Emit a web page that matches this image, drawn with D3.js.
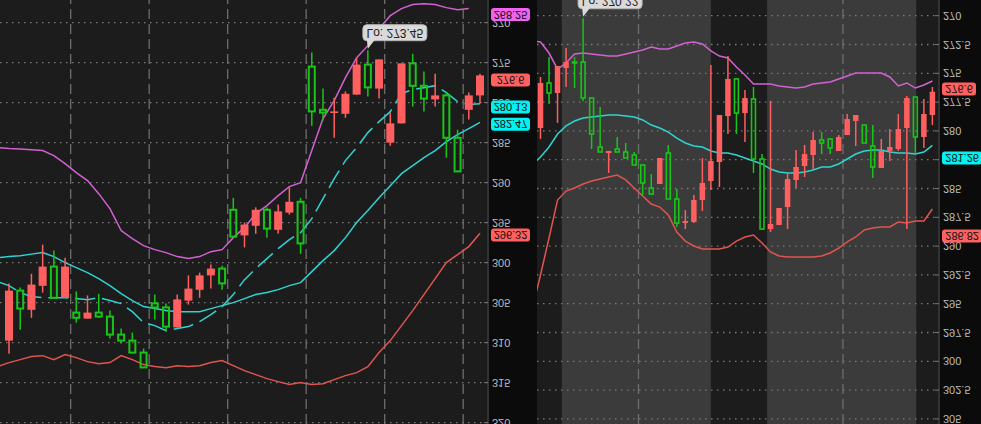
<!DOCTYPE html>
<html><head><meta charset="utf-8">
<script src="https://cdn.jsdelivr.net/npm/d3@7"></script>
<style>html,body{margin:0;padding:0;background:#0b0b0b;overflow:hidden}svg{display:block}</style>
</head><body>
<svg id="c" width="981" height="424"></svg>
<script>
// ---------------- DATA ----------------
// Left panel candles (OHLC)
const leftOpen  = [309.75,303.5,305.9,302.9,300.5,304.4,306.25,307,306.25,306.75,309,309.75,311.25,305.1,305.6,308.1,304.75,303.4,301.6,300.75,293.4,296.6,295.4,293.4,295.9,293.75,292.4,275.5,280.9,281.3,281.4,279,275.25,278.25,285,282.6,275.1,277.9,279.6,279.1,284.4,280.9,279.1];
const leftHigh  = [311.4,308.4,306.9,303.75,304.4,304.4,307.5,307,306.9,309.5,310.1,311.25,313.1,307.1,308.6,308.1,305.25,304.4,303.25,303.4,296.75,298.1,296.4,296.9,296.4,294,298.9,282.9,282.25,284.4,281.9,279,279.25,279.5,285.4,282.6,280.5,281.1,280.5,286.9,288.6,282.1,280.1];
const leftLow   = [302.6,303.1,301.4,297.75,298.5,299.4,303.6,304.1,303.9,306,308.25,308.75,310.75,304,305.1,304,301.6,301.25,300.25,300.4,291.9,295,293.1,293.1,292.75,290.6,291.9,273.75,278.25,279.4,278.6,274.4,273.45,274.6,281.25,275.1,273.9,276.1,276.4,278.75,283.4,278.75,276.4];
const leftClose = [303.5,305.75,302.75,300.5,304.4,300.5,306.9,306.25,306.75,309,309.75,311.25,313.1,305.6,308,304.6,303.25,301.6,300.75,302.6,296.75,295.25,293.4,295.75,293.6,292.4,297.6,281.1,281.25,281.1,278.9,275.25,278.1,274.6,282.6,275.1,277.9,279.5,279.1,284.4,288.6,279.1,276.6];
// Left panel studies (first value is the bar just before the visible range)
const leftUpper  = [285.63,285.75,285.81,285.88,286.00,286.63,287.63,288.75,289.75,291.38,293.25,296.00,297.00,297.88,298.38,298.75,299.25,299.50,299.25,298.63,298.38,296.88,295.63,293.88,292.88,291.63,290.50,290.00,286.00,282.00,279.75,276.88,274.38,272.88,270.75,269.13,268.25,267.75,267.63,267.75,268.13,268.38,268.25];
const leftMiddle = [299.38,299.25,299.13,298.94,298.75,299.25,300.00,300.63,301.25,302.00,302.88,303.88,304.75,305.50,305.75,306.00,306.13,306.13,306.13,305.75,305.38,305.00,304.50,304.00,303.75,303.38,302.88,302.50,301.13,299.75,298.50,296.88,295.00,293.50,291.88,290.38,288.88,287.88,286.88,286.00,284.88,284.00,283.25,282.47];
const leftFastMA = [302.38,302.88,303.75,304.25,304.38,304.38,304.38,304.50,304.63,304.38,304.75,305.13,306.13,307.50,307.88,308.50,308.25,308.00,307.38,306.50,305.50,304.00,302.13,300.75,299.50,298.25,297.13,296.25,294.50,292.00,289.50,287.25,285.63,283.75,282.38,281.13,278.88,278.38,278.13,277.88,278.75,279.88,280.25,280.13];
const leftLower  = [313.00,312.50,312.13,311.75,311.63,312.13,311.50,311.88,312.38,312.63,312.50,311.63,312.13,312.75,313.00,313.13,312.88,313.00,312.88,312.50,312.25,312.88,313.50,314.00,314.50,314.88,315.25,315.00,315.25,315.13,314.63,314.13,313.75,313.00,311.25,309.75,307.88,306.00,304.00,302.00,300.00,299.00,298.00,296.32];
// Right panel candles (OHLC)
const rightOpen  = [279.75,275.84,276.71,274.54,274.02,274.02,277.14,281.40,281.92,281.57,281.83,282.09,282.96,284.96,284.61,281.92,285.91,288.00,287.91,286.00,284.35,282.70,278.71,275.49,278.45,277.23,282.44,288.52,288.17,286.61,284.26,283.05,282.09,280.79,280.70,281.74,280.36,279.14,279.49,281.31,283.22,281.74,281.57,279.75,277.06,280.53,278.62];
const rightHigh  = [280.70,277.66,279.31,276.19,276.28,277.40,281.57,281.83,283.65,281.83,282.35,282.96,285.56,285.48,284.61,285.91,288.34,288.52,288.00,286.95,285.13,284.87,280.27,280.27,280.96,283.65,288.60,288.78,288.17,288.52,284.96,284.00,283.31,282.01,282.01,281.74,280.36,281.31,281.05,284.09,283.22,282.61,281.74,288.52,282.01,281.48,279.49];
const rightLow   = [275.32,273.59,274.37,272.80,273.59,270.22,277.14,277.93,281.74,280.53,281.05,281.83,282.96,283.74,282.35,281.22,285.04,286.87,285.56,282.35,274.28,278.62,273.50,275.49,276.45,276.19,282.01,277.40,286.69,283.65,281.66,281.22,280.10,280.10,280.70,280.36,278.53,278.62,279.49,279.49,280.70,279.84,278.53,276.97,277.06,277.23,276.19];
const rightClose = [275.84,276.71,274.37,274.02,274.11,277.14,280.27,281.83,281.74,281.83,282.35,282.96,284.52,285.48,282.35,285.91,288.00,287.83,286.00,284.52,282.61,278.62,275.49,278.45,277.14,282.44,288.52,288.08,286.69,284.18,283.13,282.01,280.79,281.05,281.48,280.53,278.97,278.62,281.05,283.13,281.74,281.40,279.84,277.14,280.53,278.53,276.60];
// Right panel studies (first value is the bar just before the visible range)
const rightUpper  = [272.20,272.28,273.24,274.63,274.11,273.32,273.24,273.32,273.41,273.50,273.50,273.32,273.15,272.98,272.72,272.89,272.89,272.63,272.37,272.28,272.46,273.06,273.50,273.67,274.45,275.15,275.93,275.93,275.93,276.10,276.19,276.28,276.19,275.93,275.84,275.76,275.49,275.23,274.97,274.97,274.97,274.97,275.32,276.10,275.84,276.28,276.02,275.67];
const rightMiddle = [282.96,282.27,281.40,280.27,279.57,279.14,278.88,278.79,278.71,278.62,278.62,278.71,278.79,279.05,279.49,279.75,280.10,280.62,281.05,281.31,281.40,281.74,281.92,281.92,282.09,282.35,282.61,282.87,283.31,283.57,283.65,283.65,283.57,283.39,283.13,283.13,282.87,282.44,282.01,281.74,281.66,281.66,281.83,281.92,281.92,282.01,281.83,281.26];
const rightLower  = [295.55,292.51,289.30,286.00,285.22,284.96,284.61,284.35,284.18,284.00,283.83,284.26,284.96,285.65,286.35,286.61,287.30,288.78,289.56,289.99,290.25,290.25,290.25,290.08,289.56,289.21,289.04,289.73,290.51,290.86,290.95,290.95,290.95,290.95,290.86,290.60,290.17,289.64,289.21,288.60,288.43,288.34,288.34,287.91,288.00,287.82,287.82,286.78];
// Axes
const leftTickLabels  = ["270","275","280","285","290","295","300","305","310","315","320"];
const rightTickLabels = ["270","272.5","275","277.5","280","282.5","285","287.5","290","292.5","295","297.5","300","302.5","305"];
const leftDayBreaks  = [5.5,12.5,19.5,26.5,33.5,40.5];
const rightDayBreaks = [11.5,35.5];
const rightSessions  = [[2.5,20.0],[26.6,44.1]];
// Price bubbles and axis badges
const leftBubble  = {bar:32, label:"Lo: 273.45", value:273.45};
const rightBubble = {bar:5,  label:"Lo: 270.22", value:270.22};
const leftBadgeLabels  = ["268.25","276.6","280.13","282.47","296.32"];
const leftBadgeValues  = [268.25,276.6,280.13,282.47,296.32];
const rightBadgeLabels = ["276.6","281.26","286.82"];
const rightBadgeValues = [276.6,281.26,286.82];

// ---------------- LAYOUT / STYLE ----------------
const W=981,H=424;
const C={bg:"#0b0b0b",panel:"#1c1c1c",shade:"#3b3b3b",grid:"#6a6a6a",axis:"#4d4d4d",tick:"#bdbdbd",
  up:"#19c419",down:"#ff5f5f",upper:"#d261d2",middle:"#2fd3d3",lower:"#e0554f"};
const leftBadgeColors=[ "#f063f0","#ff6161","#00f2f2","#00f2f2","#ff6161"];
const rightBadgeColors=["#ff6161","#00f2f2","#ff6161"];
const leftBadgeNudge=[6,4.6,3.4,2,1.8];
const rightBadgeNudge=[-2.7,12.6,26.5];
const FONT='"Liberation Sans", Arial, sans-serif';

const svg=d3.select("#c");
svg.append("rect").attr("width",W).attr("height",H).attr("fill",C.bg);
// whole picture is mirrored vertically, like the reference
const root=svg.append("g").attr("transform",`translate(0,${H}) scale(1,-1)`);
const defs=svg.append("defs");
defs.append("clipPath").attr("id","clipL").append("rect").attr("x",0).attr("y",0).attr("width",487).attr("height",H);
defs.append("clipPath").attr("id","clipR").append("rect").attr("x",537).attr("y",0).attr("width",401).attr("height",H);

const yL=d3.scaleLinear().domain([270,320]).range([H-22.6,H-422.6]);
const yR=d3.scaleLinear().domain([270,305]).range([H-15.7,H-15.7-35*11.52]);
const xL=d3.scaleLinear().domain([0,42]).range([9,480]);
const xR=d3.scaleLinear().domain([0,46]).range([540.5,932.4]);

function panel(opt){
  const {x0,x1,x,y,clip,ticks,breaks,sessions,open,high,low,close,studies,bodyW,sw,axisX,labelX,badges,bubble}=opt;
  const g=root.append("g");
  g.append("rect").attr("x",x0).attr("y",0).attr("width",x1-x0).attr("height",H).attr("fill",C.panel);
  const pg=g.append("g").attr("clip-path",`url(#${clip})`);
  (sessions||[]).forEach(s=>{
    pg.append("rect").attr("x",x(s[0])).attr("y",0).attr("width",x(s[1])-x(s[0])).attr("height",H).attr("fill",C.shade);
  });
  // grid
  pg.selectAll(".hg").data(ticks).join("line")
    .attr("x1",x0).attr("x2",x1).attr("y1",d=>y(+d)).attr("y2",d=>y(+d))
    .attr("stroke","#7a7a7a").attr("stroke-width",1.3).attr("stroke-dasharray","1.5,4.5");
  pg.selectAll(".vg").data(breaks).join("line")
    .attr("x1",d=>x(d)).attr("x2",d=>x(d)).attr("y1",0).attr("y2",H)
    .attr("stroke","#6e6e6e").attr("stroke-width",1.3).attr("stroke-dasharray","10,5");
  // studies
  studies.forEach(s=>{
    const line=d3.line().x((d,j)=>x(j-1)).y(d=>y(d));
    pg.append("path").attr("d",line(s.data)).attr("fill","none").attr("stroke",s.color)
      .attr("stroke-width",1.5).attr("stroke-dasharray",s.dash||null);
  });
  // candles
  const idx=d3.range(open.length);
  idx.forEach(i=>{
    const up=close[i]>open[i];
    const cx=x(i);
    const top=y(Math.max(open[i],close[i])), bot=y(Math.min(open[i],close[i]));
    const col=up?C.up:C.down;
    if(up){
      pg.append("line").attr("x1",cx).attr("x2",cx).attr("y1",y(high[i])).attr("y2",top).attr("stroke",col).attr("stroke-width",1.5);
      pg.append("line").attr("x1",cx).attr("x2",cx).attr("y1",bot).attr("y2",y(low[i])).attr("stroke",col).attr("stroke-width",1.5);
      pg.append("rect").attr("x",cx-bodyW/2+sw/2).attr("y",top).attr("width",bodyW-sw)
        .attr("height",Math.max(bot-top,1)).attr("fill","none").attr("stroke",col).attr("stroke-width",sw);
    } else {
      pg.append("line").attr("x1",cx).attr("x2",cx).attr("y1",y(high[i])).attr("y2",y(low[i])).attr("stroke",col).attr("stroke-width",1.5);
      pg.append("rect").attr("x",cx-bodyW/2).attr("y",top).attr("width",bodyW)
        .attr("height",Math.max(bot-top,1.6)).attr("fill",col);
    }
  });
  // bubble
  if(bubble){
    const bx=x(bubble.bar), by=y(bubble.value)+1.5;
    const bb=pg.append("g");
    bb.append("rect").attr("x",bx-5).attr("y",by+8).attr("width",64).attr("height",16).attr("rx",4)
      .attr("fill","#dadada").attr("stroke","#b5b5b5").attr("stroke-width",1);
    bb.append("path").attr("d",`M${bx-1},${by+9}L${bx},${by}L${bx+7},${by+9}Z`).attr("fill","#dadada");
    bb.append("text").attr("x",bx+27).attr("y",by+16).attr("text-anchor","middle").attr("dominant-baseline","central")
      .attr("font-family",FONT).attr("font-size",12).attr("fill","#222").text(bubble.label);
  }
  // axis
  const ag=g.append("g");
  ag.append("line").attr("x1",axisX).attr("x2",axisX).attr("y1",0).attr("y2",H).attr("stroke",C.axis).attr("stroke-width",1.2);
  ag.selectAll(".tk").data(ticks).join("line")
    .attr("x1",axisX-4).attr("x2",axisX).attr("y1",d=>y(+d)).attr("y2",d=>y(+d)).attr("stroke","#777").attr("stroke-width",1);
  ag.selectAll(".tl").data(ticks).join("text")
    .attr("x",labelX).attr("y",d=>y(+d)).attr("dominant-baseline","central")
    .attr("font-family",FONT).attr("font-size",11).attr("fill",C.tick).text(d=>d);
  // badges
  badges.labels.forEach((lab,i)=>{
    const cy=y(badges.values[i])-badges.nudge[i];
    const w=badges.fixedW||(lab.length*6.2+3);
    ag.append("rect").attr("x",badges.x).attr("y",cy-6.5).attr("width",w).attr("height",13).attr("rx",3)
      .attr("fill",badges.colors[i]);
    ag.append("text").attr("x",badges.x+w/2).attr("y",cy).attr("text-anchor","middle").attr("dominant-baseline","central")
      .attr("font-family",FONT).attr("font-size",11).attr("fill","#111").text(lab);
  });
}

panel({x0:0,x1:487,x:xL,y:yL,clip:"clipL",ticks:leftTickLabels,breaks:leftDayBreaks,sessions:[],
  open:leftOpen,high:leftHigh,low:leftLow,close:leftClose,
  studies:[{data:leftUpper,color:C.upper},{data:leftLower,color:C.lower},{data:leftMiddle,color:C.middle},{data:leftFastMA,color:C.middle,dash:"20,7"}],
  bodyW:8,sw:2,axisX:488,labelX:492,bubble:leftBubble,
  badges:{labels:leftBadgeLabels,values:leftBadgeValues,colors:leftBadgeColors,nudge:leftBadgeNudge,x:491,fixedW:39}});
panel({x0:537,x1:938,x:xR,y:yR,clip:"clipR",ticks:rightTickLabels,breaks:rightDayBreaks,sessions:rightSessions,
  open:rightOpen,high:rightHigh,low:rightLow,close:rightClose,
  studies:[{data:rightUpper,color:C.upper},{data:rightLower,color:C.lower},{data:rightMiddle,color:C.middle}],
  bodyW:5.5,sw:1.6,axisX:939,labelX:943,bubble:rightBubble,
  badges:{labels:rightBadgeLabels,values:rightBadgeValues,colors:rightBadgeColors,nudge:rightBadgeNudge,x:942}});
</script>
</body></html>
